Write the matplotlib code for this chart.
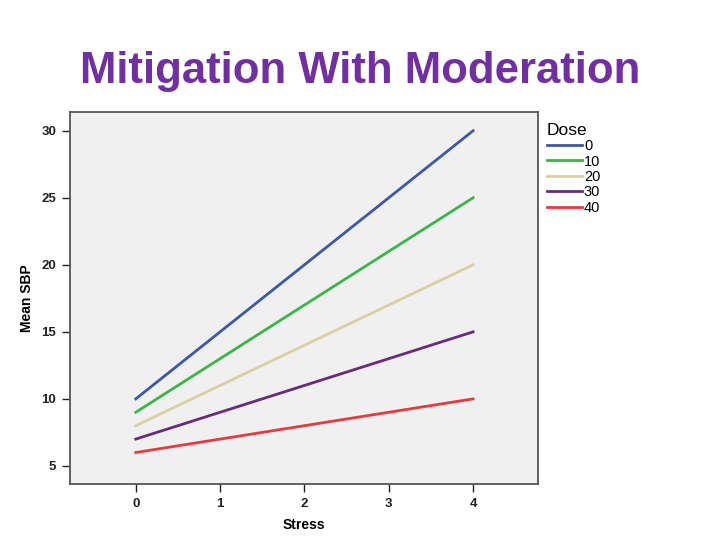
import matplotlib
matplotlib.use("Agg")
import matplotlib.pyplot as plt

# Data
stress = [0, 4]
doses = ["0", "10", "20", "30", "40"]
sbp_at_0 = [10, 9, 8, 7, 6]
sbp_at_4 = [30, 25, 20, 15, 10]
colors = ["#3f57a8", "#3cb44b", "#d9cfa3", "#6a2a7c", "#e33b3f"]
x_ticks = [0, 1, 2, 3, 4]
y_ticks = [5, 10, 15, 20, 25, 30]

plt.rcParams["font.family"] = ["Liberation Sans", "DejaVu Sans"]

fig = plt.figure(figsize=(7.2, 5.4), dpi=100)
fig.patch.set_facecolor("white")

fig.text(0.5, 0.868, "Mitigation With Moderation", ha="center", va="center",
         fontsize=31.5, fontweight="bold", color="#7030a0")

# axes placed to match the reference plot box
ax = fig.add_axes([70 / 720, 1 - 484 / 540, 468 / 720, 372 / 540])
ax.set_facecolor("#f0f0f0")

for label, y0, y1, c in zip(doses, sbp_at_0, sbp_at_4, colors):
    ax.plot(stress, [y0, y1], color=c, linewidth=2, label=label)

ax.set_xlim(-0.78, 4.77)
ax.set_ylim(3.65, 31.4)
ax.set_xticks(x_ticks)
ax.set_yticks(y_ticks)
ax.tick_params(direction="out", length=6, width=1, labelsize=9.5,
               colors="#222222", pad=4)
for lbl in ax.get_xticklabels() + ax.get_yticklabels():
    lbl.set_fontweight("bold")

for side in ax.spines.values():
    side.set_color("#555555")
    side.set_linewidth(1.3)

ax.set_xlabel("Stress", fontsize=10, fontweight="bold", labelpad=6)
ax.set_ylabel("Mean SBP", fontsize=10, fontweight="bold", labelpad=5)

leg = ax.legend(title="Dose", loc="upper left", bbox_to_anchor=(1.0, 0.995),
                frameon=False, fontsize=10.5, title_fontsize=12.5,
                handlelength=2.4, handletextpad=0.15, labelspacing=0.1,
                borderaxespad=0.2)
leg._legend_box.align = "left"

fig.savefig("out.png", dpi=100)
